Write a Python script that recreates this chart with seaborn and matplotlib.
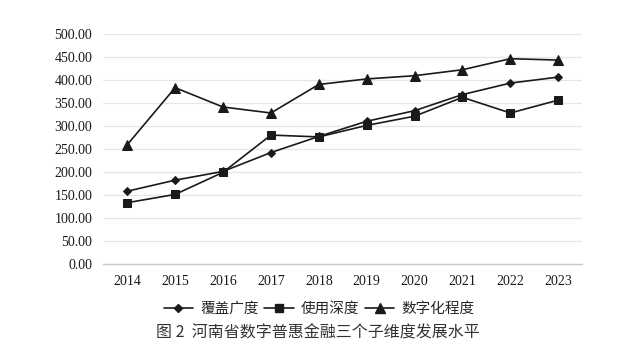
import matplotlib
matplotlib.use("Agg")
import matplotlib.pyplot as plt
import seaborn as sns
import pandas as pd
from matplotlib.lines import Line2D
from matplotlib.ticker import FixedLocator

years = ["2014", "2015", "2016", "2017", "2018", "2019", "2020", "2021", "2022", "2023"]
coverage = [158, 182, 201, 242, 277, 310, 333, 368, 393, 406]
depth = [133, 151, 199, 280, 276, 301, 321, 362, 328, 356]
digital = [259, 383, 341, 328, 390, 402, 409, 422, 446, 443]
series_names = ["覆盖广度", "使用深度", "数字化程度"]
caption = "图 2  河南省数字普惠金融三个子维度发展水平"

sns.set_theme(style="white")
plt.rcParams["font.family"] = ["Liberation Serif", "Noto Sans CJK SC"]

fig = plt.figure(figsize=(6.26, 3.64), dpi=100)
ax = fig.add_axes([0.165, 0.275, 0.765, 0.632])

df = pd.DataFrame({"year": years, series_names[0]: coverage,
                   series_names[1]: depth, series_names[2]: digital})
markers = ["D", "s", "^"]
msizes = [4.2, 6.0, 6.5]
color = "#1a1a1a"
for name, m, ms in zip(series_names, markers, msizes):
    sns.lineplot(data=df, x="year", y=name, marker=m, markersize=ms, color=color,
                 markeredgecolor=color, markerfacecolor=color, linewidth=1.2, ax=ax,
                 sort=False)

ax.set_ylim(0, 500)
ax.set_xlim(-0.5, len(years) - 0.5)
ax.set_yticks(range(0, 501, 50))
ax.set_yticklabels([f"{v:.2f}" for v in range(0, 501, 50)])
ax.yaxis.grid(True, color="#e6e6e6", linewidth=0.9)
ax.set_axisbelow(True)
for s in ["top", "right", "left"]:
    ax.spines[s].set_visible(False)
ax.spines["bottom"].set_color("#c8c8c8")
ax.spines["bottom"].set_linewidth(1.0)
ax.set_xlabel("")
ax.set_ylabel("")
ax.tick_params(axis="y", length=0, labelsize=10, pad=8, labelcolor="#1a1a1a")
ax.tick_params(axis="x", which="major", length=0, labelsize=10, pad=8, labelcolor="#1a1a1a")
ax.xaxis.set_minor_locator(FixedLocator([i - 0.5 for i in range(len(years) + 1)]))
ax.tick_params(axis="x", which="minor", length=5, color="#c8c8c8", width=1.0, direction="out")

handles = [Line2D([], [], color=color, marker=m, markersize=ms, linewidth=1.2)
           for m, ms in zip(markers, msizes)]
fig.legend(handles, series_names, loc="center", bbox_to_anchor=(0.51, 0.152), ncol=3,
           frameon=False, handlelength=2.0, handletextpad=0.5,
           columnspacing=0.4, prop={"family": ["Noto Sans CJK SC"], "size": 10.5})
fig.text(0.507, 0.085, caption, ha="center", va="center", fontsize=11.5,
         color="#333333", family=["Noto Sans CJK SC"])

fig.savefig("out.png", dpi=100)
